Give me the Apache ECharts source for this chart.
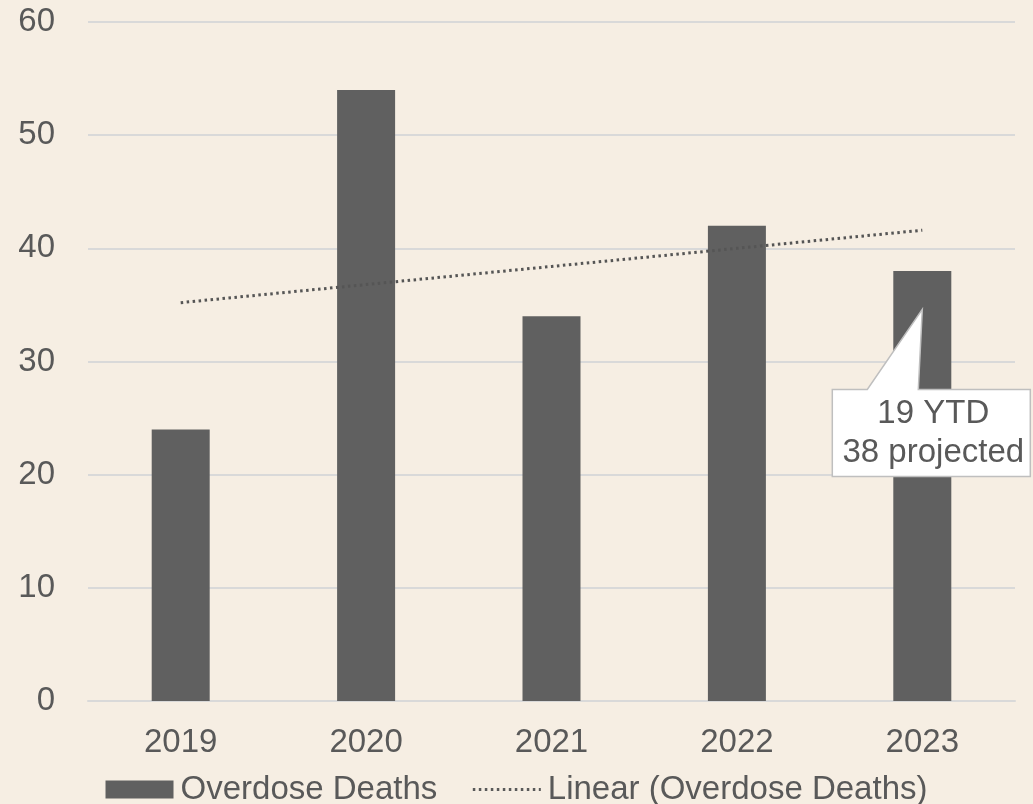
<!DOCTYPE html>
<html>
<head>
<meta charset="utf-8">
<script src="https://cdn.jsdelivr.net/npm/echarts@6/dist/echarts.min.js"></script>
<style>
html,body{margin:0;padding:0;background:#F6EEE3;}
#main{width:1033px;height:804px;}
</style>
</head>
<body>
<div id="main"></div>
<script>
const categories = ['2019', '2020', '2021', '2022', '2023'];
const overdoseDeaths = [24, 54, 34, 42, 38];
const linearTrend = [35.2, 36.8, 38.4, 40.0, 41.6];
const yTicks = [0, 10, 20, 30, 40, 50, 60];
const calloutLines = ['19 YTD', '38 projected'];
const calloutAnchor = ['2023', 34.6];

const FONT = '"Liberation Sans", Arial, sans-serif';
const TXT = '#595959';
const DOTS = [2.5, 3.5];

const chart = echarts.init(document.getElementById('main'), null, {renderer: 'canvas'});
chart.setOption({
  backgroundColor: '#F6EEE3',
  animation: false,
  textStyle: {fontFamily: FONT},
  grid: {left: 88, right: 18, top: 22, bottom: 103},
  xAxis: {
    type: 'category',
    data: categories,
    axisLine: {lineStyle: {color: '#D9D9D9', width: 2}},
    axisTick: {show: false},
    axisLabel: {color: TXT, fontSize: 33, fontFamily: FONT, margin: 25}
  },
  yAxis: {
    type: 'value',
    min: yTicks[0],
    max: yTicks[yTicks.length - 1],
    interval: 10,
    axisLine: {show: false},
    axisTick: {show: false},
    splitLine: {lineStyle: {color: '#D9D9D9', width: 2}},
    axisLabel: {color: TXT, fontSize: 33, fontFamily: FONT, margin: 33}
  },
  legend: {
    bottom: -7,
    left: 'center',
    itemWidth: 68,
    itemHeight: 18,
    itemGap: 34,
    textStyle: {color: TXT, fontSize: 33, fontFamily: FONT, padding: [0, 0, 0, 2]},
    data: [
      {name: 'Overdose Deaths', icon: 'rect'},
      {name: 'Linear (Overdose Deaths)', itemStyle: {opacity: 0},
       lineStyle: {color: '#595959', width: 3, type: DOTS}}
    ]
  },
  series: [
    {
      name: 'Overdose Deaths',
      type: 'bar',
      data: overdoseDeaths,
      barWidth: 58,
      itemStyle: {color: '#606060'},
      z: 2
    },
    {
      name: 'Linear (Overdose Deaths)',
      type: 'line',
      data: linearTrend,
      symbol: 'none',
      lineStyle: {color: '#555555', width: 3, type: DOTS},
      itemStyle: {color: '#555555'},
      z: 3
    }
  ]
});

const tip = chart.convertToPixel({gridIndex: 0}, calloutAnchor);
const bx0 = tip[0] - 90, bx1 = tip[0] + 108;
const by0 = tip[1] + 80, by1 = tip[1] + 167;
chart.setOption({
  graphic: [
    {
      type: 'polygon',
      z: 100,
      shape: {points: [
        [bx0, by0], [tip[0] - 55, by0], [tip[0], tip[1]], [tip[0] - 4, by0],
        [bx1, by0], [bx1, by1], [bx0, by1]
      ]},
      style: {fill: '#FFFFFF', stroke: '#BFBFBF', lineWidth: 1.5}
    },
    {
      type: 'text',
      z: 101,
      x: (bx0 + bx1) / 2 + 2,
      y: (by0 + by1) / 2,
      style: {
        text: calloutLines.join('\n'),
        fill: TXT,
        font: '33px ' + FONT,
        align: 'center',
        verticalAlign: 'middle',
        lineHeight: 39
      }
    }
  ]
});
</script>
</body>
</html>
